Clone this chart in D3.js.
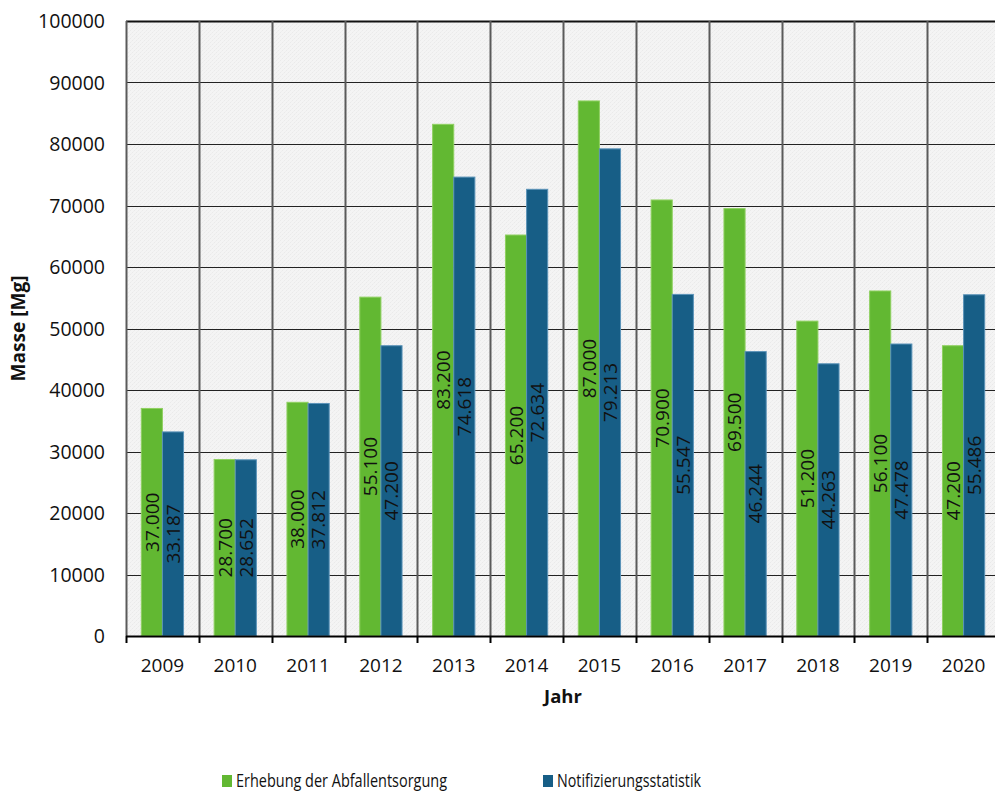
<!DOCTYPE html>
<html>
<head>
<meta charset="utf-8">
<script src="https://cdn.jsdelivr.net/npm/d3@7"></script>
<style>
  html, body { margin: 0; padding: 0; background: #fff; }
  svg { display: block; font-family: "Open Sans", "Noto Sans", sans-serif; }
</style>
</head>
<body>
<svg id="chart" width="995" height="794"></svg>
<script>
// Jahre und Mengen (Mg)
const years = ["2009", "2010", "2011", "2012", "2013", "2014", "2015", "2016", "2017", "2018", "2019", "2020"];
const erhebung = [37000, 28700, 38000, 55100, 83200, 65200, 87000, 70900, 69500, 51200, 56100, 47200];
const notifizierung = [33187, 28652, 37812, 47200, 74618, 72634, 79213, 55547, 46244, 44263, 47478, 55486];
const seriesNames = ["Erhebung der Abfallentsorgung", "Notifizierungsstatistik"];
const yTicks = [0, 10000, 20000, 30000, 40000, 50000, 60000, 70000, 80000, 90000, 100000];

const colors = ["#62b832", "#175e86"];
const strokes = ["#8fd060", "#5b93b8"];

const svg = d3.select("#chart");
const plot = { left: 126, right: 1000, top: 21, bottom: 636 };

const x = d3.scaleBand().domain(years).range([plot.left, plot.right]).padding(0);
const sub = d3.scaleBand().domain([0, 1])
  .range([x.bandwidth() * 0.21, x.bandwidth() * 0.79]).padding(0);
const y = d3.scaleLinear().domain([0, 100000]).range([plot.bottom, plot.top]);

const de = d3.formatLocale({ decimal: ",", thousands: ".", grouping: [3], currency: ["", " €"] });
const fmt = de.format(",.0f");

// Fein schraffierter Hintergrund der Zeichenfläche
const defs = svg.append("defs");
const pat = defs.append("pattern").attr("id", "hatch")
  .attr("width", 4).attr("height", 4).attr("patternUnits", "userSpaceOnUse");
pat.append("rect").attr("width", 4).attr("height", 4).attr("fill", "#f4f4f4");
pat.append("rect").attr("x", 0).attr("y", 0).attr("width", 1).attr("height", 1).attr("fill", "#eaeaea");
pat.append("rect").attr("x", 2).attr("y", 2).attr("width", 1).attr("height", 1).attr("fill", "#eaeaea");
pat.append("rect").attr("x", 1).attr("y", 3).attr("width", 1).attr("height", 1).attr("fill", "#efefef");
pat.append("rect").attr("x", 3).attr("y", 1).attr("width", 1).attr("height", 1).attr("fill", "#efefef");

svg.append("rect")
  .attr("x", plot.left).attr("y", plot.top)
  .attr("width", plot.right - plot.left).attr("height", plot.bottom - plot.top)
  .attr("fill", "url(#hatch)");

// Horizontale Gitterlinien
svg.append("g").selectAll("line").data(yTicks.filter(d => d > 0)).join("line")
  .attr("x1", plot.left).attr("x2", plot.right)
  .attr("y1", d => Math.round(y(d)) + 0.5).attr("y2", d => Math.round(y(d)) + 0.5)
  .attr("stroke", d => d === 100000 ? "#111" : "#222").attr("stroke-width", d => d === 100000 ? 2 : 1.2);

// Vertikale Gitterlinien zwischen den Jahren
svg.append("g").selectAll("line").data(years).join("line")
  .attr("x1", d => Math.round(x(d)) + 0.5).attr("x2", d => Math.round(x(d)) + 0.5)
  .attr("y1", plot.top).attr("y2", plot.bottom)
  .attr("stroke", "#5a5a5a").attr("stroke-width", 2);

// Balken
const groups = svg.append("g").selectAll("g").data(years).join("g")
  .attr("transform", d => `translate(${x(d)},0)`);

const seriesData = [erhebung, notifizierung];
groups.each(function (yr, i) {
  const g = d3.select(this);
  seriesData.forEach((vals, s) => {
    const v = vals[i];
    g.append("rect")
      .attr("x", sub(s)).attr("width", sub.bandwidth())
      .attr("y", y(v)).attr("height", y(0) - y(v))
      .attr("fill", colors[s]).attr("stroke", strokes[s]).attr("stroke-width", 1);
  });
  seriesData.forEach((vals, s) => {
    const v = vals[i];
    const cx = sub(s) + sub.bandwidth() / 2;
    const cy = (y(v) + y(0)) / 2;
    g.append("text")
      .attr("transform", `translate(${cx},${cy}) rotate(-90)`)
      .attr("text-anchor", "middle").attr("dy", "0.36em")
      .attr("font-size", 19).attr("fill", "#111")
      .text(fmt(v));
  });
});

// x-Achse mit Teilstrichen an den Kategoriegrenzen
const xAxis = svg.append("g");
xAxis.append("line")
  .attr("x1", plot.left).attr("x2", plot.right)
  .attr("y1", plot.bottom + 0.5).attr("y2", plot.bottom + 0.5)
  .attr("stroke", "#000").attr("stroke-width", 2);
xAxis.selectAll("line.tick").data(years).join("line").attr("class", "tick")
  .attr("x1", d => Math.round(x(d)) + 0.5).attr("x2", d => Math.round(x(d)) + 0.5)
  .attr("y1", plot.bottom).attr("y2", plot.bottom + 7)
  .attr("stroke", "#000").attr("stroke-width", 2);
xAxis.selectAll("text").data(years).join("text")
  .attr("x", d => x(d) + x.bandwidth() / 2).attr("y", 672)
  .attr("text-anchor", "middle").attr("font-size", 19).attr("fill", "#111")
  .text(d => d);

// y-Achsenbeschriftung
svg.append("g").selectAll("text").data(yTicks).join("text")
  .attr("x", 105).attr("y", d => y(d)).attr("dy", "0.36em")
  .attr("text-anchor", "end").attr("font-size", 19.5).attr("fill", "#111")
  .text(d => d);

// Achsentitel
svg.append("text")
  .attr("transform", `translate(25,${(plot.top + plot.bottom) / 2}) rotate(-90)`)
  .attr("text-anchor", "middle").attr("font-size", 19).attr("font-weight", "bold").attr("fill", "#111")
  .attr("textLength", 106).attr("lengthAdjust", "spacingAndGlyphs")
  .text("Masse [Mg]");
svg.append("text")
  .attr("x", (plot.left + plot.right) / 2).attr("y", 703)
  .attr("text-anchor", "middle").attr("font-size", 18.5).attr("font-weight", "bold").attr("fill", "#111")
  .text("Jahr");

// Legende
const legendX = [222, 543];
const legendLen = [211, 144];
const legend = svg.append("g").selectAll("g").data(seriesNames).join("g")
  .attr("transform", (d, i) => `translate(${legendX[i]},0)`);
legend.append("rect").attr("x", 0).attr("y", 775).attr("width", 10).attr("height", 12)
  .attr("fill", (d, i) => colors[i]);
legend.append("text").attr("x", 14).attr("y", 787)
  .attr("font-size", 18.5).attr("fill", "#111")
  .attr("textLength", (d, i) => legendLen[i]).attr("lengthAdjust", "spacingAndGlyphs")
  .text(d => d);
</script>
</body>
</html>
